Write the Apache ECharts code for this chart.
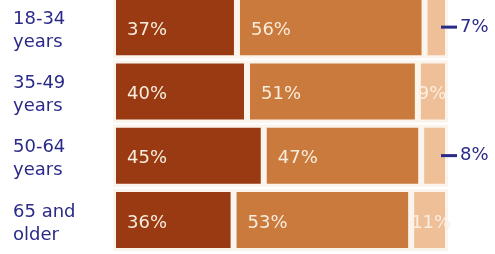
<!DOCTYPE html>
<html><head><meta charset="utf-8">
<script src="https://cdn.jsdelivr.net/npm/echarts@6/dist/echarts.min.js"></script>
<style>html,body{margin:0;padding:0;background:#fff}#c{width:495px;height:254px}</style>
</head><body><div id="c"></div>
<script>
var categories = ['18-34\nyears', '35-49\nyears', '50-64\nyears', '65 and\nolder'];
var share1 = [37, 40, 45, 36];
var share2 = [56, 51, 47, 53];
var share3 = [7, 9, 8, 11];
var share3Callout = [true, false, true, false];

var navy = '#2a2a88';
var cream = '#f8ecdc';
var font = 'DejaVu Sans';

function inLabel(){
  return {show:true, position:'insideLeft', distance:14, offset:[0,3], color:cream,
    fontFamily:font, fontSize:18, formatter:'{c}%'};
}
var lightData = share3.map(function(v,i){
  if (share3Callout[i]) {
    return {value:v, label:{show:true, position:'right', distance:0, offset:[-7,0],
      formatter:'{d|}{t|' + v + '%}',
      rich:{d:{width:16, height:3, backgroundColor:navy, verticalAlign:'middle'},
            t:{color:navy, fontFamily:font, fontSize:18, padding:[0,0,0,3], verticalAlign:'middle'}}}};
  }
  return {value:v, label:{show:true, position:'insideLeft', distance:0, offset:[0,3],
    color:'#fbeee2', fontFamily:font, fontSize:18, formatter:'{c}%'}};
});

var labelStyle = {color:navy, fontFamily:font, fontSize:18, lineHeight:23};
var chart = echarts.init(document.getElementById('c'), null, {renderer:'canvas'});
chart.setOption({
  animation:false,
  backgroundColor:'#ffffff',
  grid:{left:113, right:47, top:-5, bottom:2, containLabel:false, outerBoundsMode:'none'},
  xAxis:{type:'value', min:0, max:100, show:false},
  yAxis:{type:'category', data:categories, inverse:true,
    axisLine:{show:false}, axisTick:{show:false}, splitLine:{show:false},
    axisLabel:{align:'left', margin:100,
      formatter:function(v){ return '{p|}\n' + v.split('\n').map(function(s){return '{a|'+s+'}';}).join('\n'); },
      rich:{p:{height:7, lineHeight:7, fontSize:1}, a:labelStyle}}},
  series:[
    {type:'bar', stack:'a', data:share1, barWidth:62,
     itemStyle:{color:'#9a3a12', borderColor:'#faf4ec', borderWidth:3}, label:inLabel()},
    {type:'bar', stack:'a', data:share2, barWidth:62,
     itemStyle:{color:'#c97a3c', borderColor:'#faf4ec', borderWidth:3}, label:inLabel()},
    {type:'bar', stack:'a', data:lightData, barWidth:62,
     itemStyle:{color:'#efbf98', borderColor:'#faf4ec', borderWidth:3}}
  ]
});
</script></body></html>
